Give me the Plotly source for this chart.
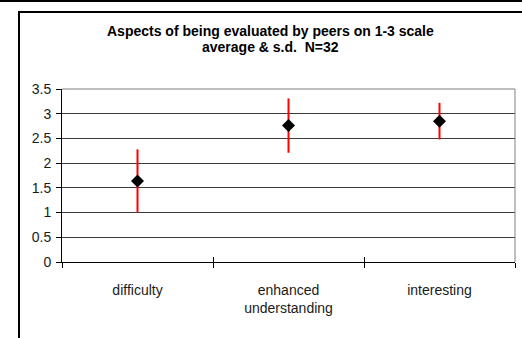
import plotly.graph_objects as go

# Survey summary: mean rating and standard deviation per aspect
categories = ["difficulty", "enhanced<br>understanding", "interesting"]
means = [1.64, 2.76, 2.85]
std_devs = [0.64, 0.55, 0.37]
y_ticks = [0, 0.5, 1, 1.5, 2, 2.5, 3, 3.5]
y_tick_labels = ["0", "0.5", "1", "1.5", "2", "2.5", "3", "3.5"]

W, H = 522, 338
L, R, T, B = 62, 7, 89, 76
PW, PH = W - L - R, H - T - B

def px_x(px):
    return (px - L) / PW

def px_y(py):
    return (H - B - py) / PH

FONT = "Liberation Sans, Arial, sans-serif"

fig = go.Figure()
fig.add_trace(go.Scatter(
    x=categories,
    y=means,
    mode="markers",
    marker=dict(symbol="diamond", size=10, color="black"),
    error_y=dict(type="data", array=std_devs, visible=True,
                 color="#ff0000", thickness=2, width=0),
    showlegend=False,
    cliponaxis=False,
))

# overlay axis that draws the inner half of the category tick marks
fig.add_trace(go.Scatter(x=categories, y=[None] * 3, xaxis="x2",
                         showlegend=False, hoverinfo="skip"))

fig.update_layout(
    width=W, height=H,
    margin=dict(l=L, r=R, t=T, b=B),
    paper_bgcolor="white",
    plot_bgcolor="white",
    font=dict(family=FONT, size=14, color="black"),
    xaxis=dict(
        type="category",
        range=[-0.5, 2.5],
        tickmode="array",
        tickvals=[0, 1, 2],
        ticktext=categories,
        tickson="boundaries",
        ticks="outside", ticklen=5, tickwidth=1, tickcolor="black",
        showline=True, linecolor="black", linewidth=1,
        showgrid=False, zeroline=False,
        ticklabelstandoff=15,
        tickfont=dict(size=14, color="#1a1a1a"),
    ),
    xaxis2=dict(
        type="category",
        overlaying="x",
        matches="x",
        range=[-0.5, 2.5],
        tickson="boundaries",
        ticks="inside", ticklen=5, tickwidth=1, tickcolor="black",
        showticklabels=False, showgrid=False, showline=False,
        side="bottom", anchor="y",
    ),
    yaxis=dict(
        range=[0, 3.5],
        tickmode="array",
        tickvals=y_ticks,
        ticktext=y_tick_labels,
        ticks="outside", ticklen=5, tickwidth=1, tickcolor="black",
        showline=True, linecolor="black", linewidth=1,
        showgrid=True, gridcolor="#3c3c3c", gridwidth=1,
        zeroline=False,
        ticklabelstandoff=2,
        tickfont=dict(size=14, color="#1a1a1a"),
    ),
    annotations=[
        dict(text="<b>Aspects of being evaluated by peers on 1-3 scale</b>",
             x=px_x(270), y=px_y(31), xref="paper", yref="paper",
             xanchor="center", yanchor="middle", showarrow=False,
             font=dict(family=FONT, size=14, color="black")),
        dict(text="<b>average &amp; s.d.  N=32</b>",
             x=px_x(270), y=px_y(47), xref="paper", yref="paper",
             xanchor="center", yanchor="middle", showarrow=False,
             font=dict(family=FONT, size=14, color="black")),
    ],
    shapes=[
        # plot area frame (top and right)
        dict(type="line", xref="paper", yref="paper", x0=0, x1=1, y0=1, y1=1,
             line=dict(color="#808080", width=1)),
        dict(type="line", xref="paper", yref="paper", x0=1, x1=1, y0=0, y1=1,
             line=dict(color="#808080", width=1)),
        # chart frame
        dict(type="line", xref="paper", yref="paper",
             x0=px_x(19), x1=px_x(19), y0=px_y(11), y1=px_y(340),
             line=dict(color="black", width=2)),
        dict(type="line", xref="paper", yref="paper",
             x0=px_x(18), x1=px_x(530), y0=px_y(12), y1=px_y(12),
             line=dict(color="black", width=2)),
        # band at the top edge
        dict(type="rect", xref="paper", yref="paper",
             x0=px_x(-5), x1=px_x(530), y0=px_y(-5), y1=px_y(2),
             fillcolor="black", line=dict(width=0)),
    ],
)

fig.write_html("out.html")
